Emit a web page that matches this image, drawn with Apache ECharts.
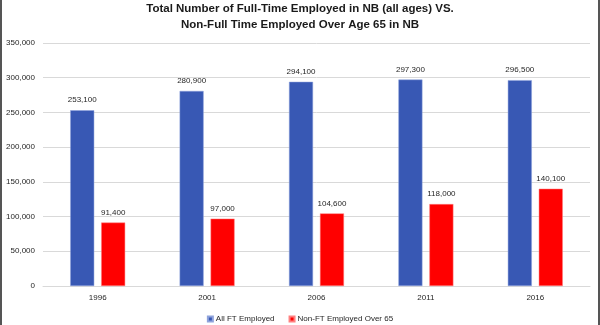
<!DOCTYPE html>
<html>
<head>
<meta charset="utf-8">
<script src="https://cdn.jsdelivr.net/npm/echarts@6/dist/echarts.min.js"></script>
<style>
html,body{margin:0;padding:0;background:#fff;}
#frame{position:absolute;left:0;top:0;width:600px;height:325px;box-sizing:border-box;border-left:2px solid #555;border-right:2px solid #555;}
#chart{position:absolute;left:0;top:0;width:600px;height:325px;}
</style>
</head>
<body>
<div id="chart"></div>
<div id="frame"></div>
<script>
const titleLines = ["Total Number of Full-Time Employed in NB (all ages) VS.", "Non-Full Time Employed Over Age 65 in NB"];
const years = ["1996", "2001", "2006", "2011", "2016"];
const seriesNames = ["All FT Employed", "Non-FT Employed Over 65"];
const allFT = [253100, 280900, 294100, 297300, 296500];
const nonFT65 = [91400, 97000, 104600, 118000, 140100];
const yTicks = [0, 50000, 100000, 150000, 200000, 250000, 300000, 350000];

const fmt = v => v.toLocaleString('en-US');
const FONT = "'Liberation Sans', sans-serif";
const TXT = '#262626';

const chart = echarts.init(document.getElementById('chart'), null, {renderer: 'canvas'});
chart.setOption({
  animation: false,
  backgroundColor: '#fff',
  title: {
    text: titleLines.join('\n'),
    left: 'center',
    top: 1,
    padding: 0,
    textStyle: {fontFamily: FONT, fontSize: 11.5, fontWeight: 'bold', color: '#1a1a1a', lineHeight: 16}
  },
  legend: {
    data: seriesNames,
    top: 310,
    left: 'center',
    itemWidth: 5,
    itemHeight: 5,
    itemGap: 14,
    icon: 'rect',
    textStyle: {fontFamily: FONT, fontSize: 8, color: TXT, padding: [0, 0, 0, -2]}
  },
  grid: {left: 43, right: 10, top: 43, bottom: 39},
  xAxis: {
    type: 'category',
    data: years,
    axisLine: {lineStyle: {color: '#d9d9d9'}},
    axisTick: {show: false},
    axisLabel: {fontFamily: FONT, fontSize: 8, color: TXT, margin: 8}
  },
  yAxis: {
    type: 'value',
    min: yTicks[0],
    max: yTicks[yTicks.length - 1],
    interval: 50000,
    axisLine: {show: false},
    axisTick: {show: false},
    splitLine: {lineStyle: {color: '#d9d9d9'}},
    axisLabel: {fontFamily: FONT, fontSize: 8, color: TXT, margin: 8, formatter: v => fmt(v)}
  },
  series: [
    {
      name: seriesNames[0], type: 'bar', data: allFT, barWidth: 24, barGap: '29%',
      itemStyle: {color: '#3858b4', borderColor: '#8fa3dc', borderWidth: 0.5},
      label: {show: true, position: 'top', distance: 6, fontFamily: FONT, fontSize: 8, color: TXT, formatter: p => fmt(p.value)}
    },
    {
      name: seriesNames[1], type: 'bar', data: nonFT65, barWidth: 24,
      itemStyle: {color: '#ff0000', borderColor: '#ff8080', borderWidth: 0.5},
      label: {show: true, position: 'top', distance: 6, fontFamily: FONT, fontSize: 8, color: TXT, formatter: p => fmt(p.value)}
    }
  ]
});
</script>
</body>
</html>
